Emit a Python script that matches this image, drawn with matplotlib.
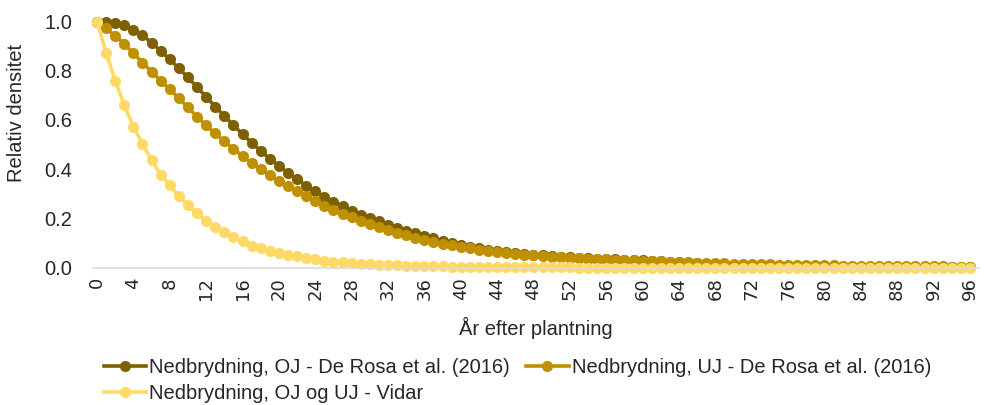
import matplotlib
matplotlib.use("Agg")
import matplotlib.pyplot as plt
import numpy as np

years = list(range(0, 97))

oj_derosa = [1.0, 1.0, 0.995, 0.985, 0.965, 0.944, 0.914, 0.881, 0.846, 0.81,
             0.773, 0.733, 0.694, 0.654, 0.616, 0.578, 0.542, 0.507, 0.474, 0.443,
             0.413, 0.385, 0.358, 0.333, 0.31, 0.288, 0.268, 0.249, 0.231, 0.215,
             0.2, 0.187, 0.174, 0.162, 0.15, 0.139, 0.128, 0.118, 0.109, 0.1,
             0.092, 0.085, 0.078, 0.072, 0.066, 0.062, 0.058, 0.055, 0.052, 0.049,
             0.046, 0.044, 0.042, 0.04, 0.038, 0.036, 0.034, 0.033, 0.031, 0.03,
             0.029, 0.027, 0.025, 0.024, 0.022, 0.02, 0.018, 0.016, 0.015, 0.013,
             0.012, 0.011, 0.01, 0.009, 0.008, 0.007, 0.007, 0.006, 0.005, 0.005,
             0.004, 0.004, 0.003, 0.003, 0.003, 0.002, 0.002, 0.002, 0.002, 0.001,
             0.001, 0.001, 0.001, 0.001, 0.001, 0.001, 0.001]

uj_derosa = [1.0, 0.972, 0.942, 0.909, 0.871, 0.833, 0.796, 0.759, 0.724, 0.688,
             0.651, 0.613, 0.578, 0.545, 0.513, 0.482, 0.453, 0.425, 0.399, 0.375,
             0.352, 0.33, 0.309, 0.289, 0.27, 0.252, 0.235, 0.219, 0.204, 0.19,
             0.177, 0.164, 0.152, 0.141, 0.131, 0.121, 0.112, 0.104, 0.097, 0.09,
             0.084, 0.078, 0.073, 0.068, 0.062, 0.058, 0.055, 0.052, 0.049, 0.046,
             0.044, 0.042, 0.04, 0.038, 0.036, 0.034, 0.033, 0.031, 0.03, 0.029,
             0.028, 0.026, 0.025, 0.024, 0.022, 0.021, 0.02, 0.019, 0.018, 0.017,
             0.016, 0.015, 0.014, 0.013, 0.013, 0.012, 0.011, 0.011, 0.01, 0.01,
             0.009, 0.009, 0.008, 0.008, 0.007, 0.007, 0.007, 0.006, 0.006, 0.006,
             0.005, 0.005, 0.005, 0.005, 0.004, 0.004, 0.004]

vidar = [1.0, 0.873, 0.76, 0.66, 0.573, 0.502, 0.437, 0.377, 0.334, 0.29,
         0.254, 0.22, 0.188, 0.163, 0.143, 0.124, 0.106, 0.089, 0.078, 0.068,
         0.058, 0.051, 0.045, 0.038, 0.033, 0.028, 0.024, 0.021, 0.018, 0.016,
         0.014, 0.012, 0.011, 0.009, 0.008, 0.007, 0.006, 0.005, 0.005, 0.004,
         0.004, 0.003, 0.003, 0.002, 0.002, 0.002, 0.001, 0.001, 0.001, 0.001,
         0.001, 0.001, 0.001, 0.0, 0.0, 0.0, 0.0, 0.0, 0.0, 0.0,
         0.0, 0.0, 0.0, 0.0, 0.0, 0.0, 0.0, 0.0, 0.0, 0.0,
         0.0, 0.0, 0.0, 0.0, 0.0, 0.0, 0.0, 0.0, 0.0, 0.0,
         0.0, 0.0, 0.0, 0.0, 0.0, 0.0, 0.0, 0.0, 0.0, 0.0,
         0.0, 0.0, 0.0, 0.0, 0.0, 0.0, 0.0]

labels = ["Nedbrydning, OJ - De Rosa et al. (2016)",
          "Nedbrydning, UJ - De Rosa et al. (2016)",
          "Nedbrydning, OJ og UJ - Vidar"]
colors = ["#7F6000", "#BF9000", "#FFD966"]

txt_font = ["Liberation Sans", "DejaVu Sans"]
txt_color = "#262626"

fig = plt.figure(figsize=(9.84, 4.05), dpi=100)
ax = fig.add_axes([93 / 984, 137.5 / 405, 886 / 984, 246 / 405])

handles = []
for vals, lab, col in zip([oj_derosa, uj_derosa, vidar], labels, colors):
    h, = ax.plot(years, vals, color=col, lw=2.6, marker="o", ms=8,
                 markeredgewidth=0, label=lab, clip_on=False)
    handles.append(h)

ax.set_xlim(-0.44, 96.99)
ax.set_ylim(0, 1.0)
ax.set_xticks(range(0, 97, 4))
ax.set_xticklabels([str(v) for v in range(0, 97, 4)], rotation=90,
                   fontsize=13, family="DejaVu Sans", color=txt_color)
ax.set_yticks(np.arange(0, 1.01, 0.2))
ax.set_yticklabels(["%.1f" % v for v in np.arange(0, 1.01, 0.2)],
                   fontsize=14.5, family=txt_font, color=txt_color)
ax.tick_params(axis="both", length=0)
ax.tick_params(axis="x", pad=7)
ax.tick_params(axis="y", pad=15)

for s in ["top", "right", "left"]:
    ax.spines[s].set_visible(False)
ax.spines["bottom"].set_color("#D9D9D9")
ax.spines["bottom"].set_linewidth(1.2)

ax.set_ylabel("Relativ densitet", fontsize=14.5, family=txt_font, color=txt_color)
ax.yaxis.set_label_coords(-0.0756, 0.628)
ax.set_xlabel("År efter plantning", fontsize=14.5, family=txt_font, color=txt_color)
ax.xaxis.set_label_coords(0.5, -0.2)

leg = fig.legend([handles[0], handles[2], handles[1]],
                 [labels[0], labels[2], labels[1]],
                 loc="upper left", bbox_to_anchor=(96 / 984, 1 - 350 / 405),
                 ncol=2, frameon=False, handlelength=2.1, handletextpad=0.15,
                 columnspacing=0.8, labelspacing=0.35, borderaxespad=0.0,
                 prop={"family": txt_font, "size": 14.5})
for t in leg.get_texts():
    t.set_color(txt_color)

fig.savefig("out.png", dpi=100)
